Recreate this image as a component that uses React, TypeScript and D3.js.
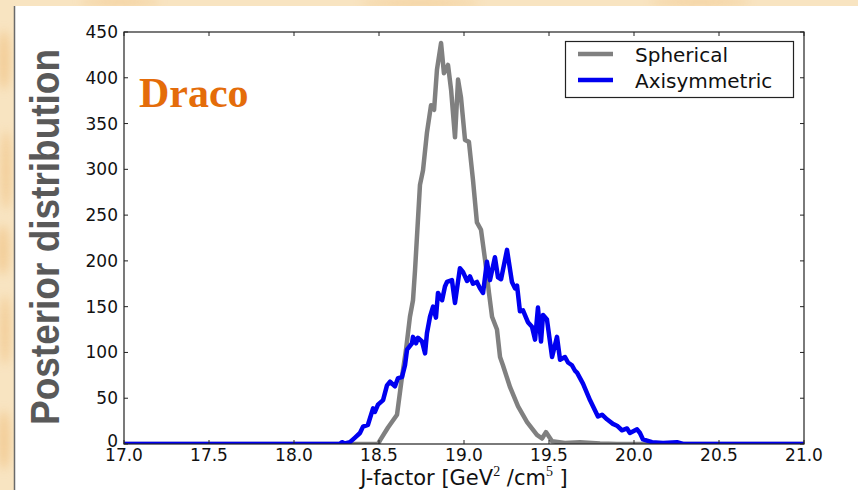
import React, { useEffect, useRef } from "react";
import * as d3 from "d3";

const WIDTH = 858;
const HEIGHT = 490;

const xTicks = [17.0, 17.5, 18.0, 18.5, 19.0, 19.5, 20.0, 20.5, 21.0];
const yTicks = [0, 50, 100, 150, 200, 250, 300, 350, 400, 450];

const seriesNames = ["Spherical", "Axisymmetric"];
const seriesColors = ["#808080", "#0000f0"];

// J-factor (log10) and posterior value
const sphericalJ = [17.0, 18.27, 18.494, 18.506, 18.553, 18.606, 18.635, 18.659, 18.682, 18.7, 18.712, 18.741, 18.759, 18.782, 18.806, 18.824, 18.841, 18.865, 18.882, 18.906, 18.924, 18.947, 18.965, 18.982, 19.006, 19.029, 19.053, 19.076, 19.1, 19.124, 19.147, 19.165, 19.194, 19.212, 19.229, 19.271, 19.318, 19.371, 19.429, 19.459, 19.482, 19.518, 19.594, 19.682, 19.8, 19.9, 21.0];
const sphericalP = [0, 0, 0, 4, 18, 32, 73, 103, 139, 157, 190, 283, 299, 340, 370, 365, 409, 438, 405, 414, 387, 335, 398, 379, 332, 330, 288, 242, 234, 201, 165, 139, 125, 95, 86, 62, 41, 24, 10, 6, 13, 3, 1, 2, 0.5, 0, 0];

const axisymJ = [17.0, 18.27, 18.282, 18.3, 18.329, 18.359, 18.388, 18.406, 18.435, 18.465, 18.476, 18.494, 18.524, 18.547, 18.565, 18.594, 18.612, 18.635, 18.653, 18.665, 18.694, 18.7, 18.718, 18.729, 18.753, 18.771, 18.782, 18.8, 18.818, 18.835, 18.847, 18.871, 18.888, 18.9, 18.929, 18.947, 18.976, 18.994, 19.018, 19.035, 19.053, 19.076, 19.094, 19.112, 19.135, 19.153, 19.182, 19.2, 19.218, 19.253, 19.282, 19.3, 19.312, 19.329, 19.347, 19.376, 19.4, 19.418, 19.435, 19.453, 19.465, 19.488, 19.518, 19.547, 19.565, 19.594, 19.612, 19.635, 19.653, 19.665, 19.7, 19.741, 19.788, 19.812, 19.841, 19.876, 19.9, 19.929, 19.959, 19.976, 20.018, 20.035, 20.053, 20.106, 20.171, 20.253, 20.288, 21.0];
const axisymP = [0, 0, 2, 0.5, 2, 7, 12, 19, 21, 39, 35, 43, 48, 64, 68, 63, 72, 73, 86, 103, 110, 117, 110, 116, 112, 99, 121, 139, 150, 138, 165, 157, 172, 177, 179, 154, 192, 188, 178, 183, 175, 177, 170, 165, 199, 179, 204, 182, 180, 212, 177, 170, 173, 145, 146, 133, 128, 114, 149, 112, 141, 136, 95, 117, 92, 95, 89, 86, 80, 78, 66, 48, 30, 32, 27, 22, 20, 15, 17, 12, 16, 12, 5, 2, 1, 2, 0, 0];

const plot = { left: 124, right: 804, top: 32, bottom: 444 };

export default function App() {
  const ref = useRef<SVGSVGElement>(null);

  useEffect(() => {
    const svg = d3.select(ref.current);
    svg.selectAll("*").remove();

    const x = d3.scaleLinear().domain([17, 21]).range([plot.left, plot.right]);
    const y = d3.scaleLinear().domain([0, 450]).range([plot.bottom, plot.top]);

    // parchment backdrop
    const defs = svg.append("defs");
    defs.append("filter").attr("id", "soft")
      .append("feGaussianBlur").attr("stdDeviation", 5);
    defs.append("clipPath").attr("id", "plotclip")
      .append("rect")
        .attr("x", plot.left).attr("y", plot.top)
        .attr("width", plot.right - plot.left).attr("height", plot.bottom - plot.top);

    svg.append("rect").attr("width", WIDTH).attr("height", HEIGHT).attr("fill", "#f8e4c1");
    const blobs = svg.append("g").attr("filter", "url(#soft)").attr("fill", "#f1c68a").attr("opacity", 0.8);
    [[4, 60, 6, 30], [6, 170, 5, 40], [3, 250, 6, 25], [5, 330, 5, 35], [4, 440, 6, 30], [120, 2, 40, 3], [420, 3, 60, 3], [700, 2, 50, 3]]
      .forEach(([cx, cy, rx, ry]) => blobs.append("ellipse").attr("cx", cx).attr("cy", cy).attr("rx", rx).attr("ry", ry));

    svg.append("rect").attr("x", 14).attr("y", 6).attr("width", WIDTH - 14).attr("height", HEIGHT - 6).attr("fill", "#ffffff");
    svg.append("line").attr("x1", 14.5).attr("x2", 14.5).attr("y1", 6).attr("y2", HEIGHT)
      .attr("stroke", "#6a6a6a").attr("stroke-width", 1.5);

    // curves
    const line = d3.line<[number, number]>().x(d => x(d[0])).y(d => y(d[1]));
    const series = [
      d3.zip(sphericalJ, sphericalP) as [number, number][],
      d3.zip(axisymJ, axisymP) as [number, number][],
    ];
    const curves = svg.append("g").attr("clip-path", "url(#plotclip)");
    series.forEach((pts, i) => {
      curves.append("path")
        .attr("d", line(pts))
        .attr("fill", "none")
        .attr("stroke", seriesColors[i])
        .attr("stroke-width", 4.5)
        .attr("stroke-linejoin", "round");
    });

    // frame and inward ticks
    svg.append("rect")
      .attr("x", plot.left).attr("y", plot.top)
      .attr("width", plot.right - plot.left).attr("height", plot.bottom - plot.top)
      .attr("fill", "none").attr("stroke", "#222").attr("stroke-width", 1.2);

    const tickLen = 4;
    const ticks = svg.append("g").attr("stroke", "#222").attr("stroke-width", 1);
    xTicks.forEach(t => {
      ticks.append("line").attr("x1", x(t)).attr("x2", x(t)).attr("y1", plot.bottom).attr("y2", plot.bottom - tickLen);
      ticks.append("line").attr("x1", x(t)).attr("x2", x(t)).attr("y1", plot.top).attr("y2", plot.top + tickLen);
    });
    yTicks.forEach(t => {
      ticks.append("line").attr("x1", plot.left).attr("x2", plot.left + tickLen).attr("y1", y(t)).attr("y2", y(t));
      ticks.append("line").attr("x1", plot.right).attr("x2", plot.right - tickLen).attr("y1", y(t)).attr("y2", y(t));
    });

    const labels = svg.append("g").attr("font-family", "DejaVu Sans").attr("font-size", 17).attr("fill", "#111");
    xTicks.forEach(t => {
      labels.append("text").attr("x", x(t)).attr("y", plot.bottom + 17)
        .attr("text-anchor", "middle").text(d3.format(".1f")(t));
    });
    yTicks.forEach(t => {
      labels.append("text").attr("x", plot.left - 6).attr("y", y(t) + (t === 0 ? 3 : 6))
        .attr("text-anchor", "end").text(t);
    });

    // x title with superscripts
    const xt = svg.append("text")
      .attr("x", (plot.left + plot.right) / 2).attr("y", 485)
      .attr("text-anchor", "middle")
      .attr("font-family", "DejaVu Sans").attr("font-size", 21).attr("fill", "#111");
    xt.append("tspan").text("J-factor [GeV");
    xt.append("tspan").attr("dy", -9).attr("font-size", 14).attr("font-family", "Liberation Serif").text("2");
    xt.append("tspan").attr("dy", 9).text(" /cm");
    xt.append("tspan").attr("dy", -9).attr("font-size", 14).attr("font-family", "Liberation Serif").text("5");
    xt.append("tspan").attr("dy", 9).text(" ]");

    // y title
    svg.append("text")
      .attr("transform", "translate(59,237) scale(1.12,1) rotate(-90)")
      .attr("text-anchor", "middle")
      .attr("font-family", "Liberation Sans").attr("font-weight", "bold")
      .attr("font-size", 37).attr("fill", "#595959")
      .text("Posterior distribution");

    // panel name
    svg.append("text")
      .attr("x", 139).attr("y", 107)
      .attr("font-family", "Liberation Serif").attr("font-weight", "bold")
      .attr("font-size", 42).attr("fill", "#e46c0a")
      .text("Draco");

    // legend
    const lg = svg.append("g");
    lg.append("rect").attr("x", 565.5).attr("y", 41.5).attr("width", 228).attr("height", 56)
      .attr("fill", "#fff").attr("stroke", "#222").attr("stroke-width", 1.2);
    seriesNames.forEach((name, i) => {
      const ly = 54 + i * 26;
      lg.append("line").attr("x1", 578).attr("x2", 613).attr("y1", ly).attr("y2", ly)
        .attr("stroke", seriesColors[i]).attr("stroke-width", 4.5);
      lg.append("text").attr("x", 635).attr("y", ly + 8)
        .attr("font-family", "DejaVu Sans").attr("font-size", 20).attr("fill", "#111")
        .text(name);
    });
  }, []);

  return (
    <div style={{ position: "absolute", left: 0, top: 0 }}>
      <svg ref={ref} width={WIDTH} height={HEIGHT} style={{ display: "block" }} />
    </div>
  );
}
